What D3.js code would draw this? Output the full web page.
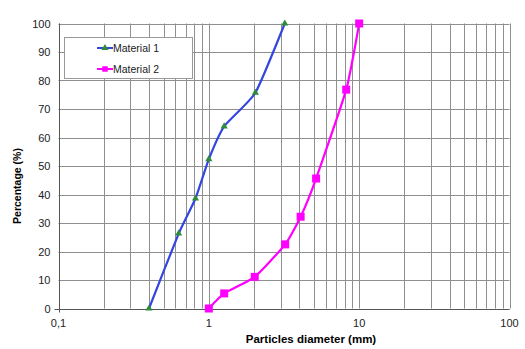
<!DOCTYPE html>
<html>
<head>
<meta charset="utf-8">
<script src="https://cdn.jsdelivr.net/npm/d3@7"></script>
<style>
  body { margin: 0; background: #fff; }
  text { font-family: "Liberation Sans", Arial, sans-serif; }
</style>
</head>
<body>
<svg id="chart" width="525" height="349"></svg>
<script>
// material 1 (blue, triangles)
var mat1Diam = [0.4, 0.63, 0.815, 1.0, 1.265, 2.04, 3.2]
var mat1Pct = [0, 26.3, 38.6, 52.4, 63.9, 75.7, 100]
// material 2 (magenta, squares)
var mat2Diam = [1.0, 1.265, 2.02, 3.22, 4.08, 5.17, 8.2, 10]
var mat2Pct = [0, 5.3, 11.1, 22.5, 32.2, 45.6, 76.8, 100]

var seriesNames = ['Material 1', 'Material 2']
var xTickLabels = ['0,1', '1', '10', '100']
var yTicks = [0, 10, 20, 30, 40, 50, 60, 70, 80, 90, 100]

var svg = d3.select('#chart')
var margin = { left: 58.5, right: 15.5, top: 23.5, bottom: 40.5 }
var W = 525, H = 349

var x = d3.scaleLog().domain([0.1, 100]).range([margin.left, W - margin.right])
var y = d3.scaleLinear().domain([0, 100]).range([H - margin.bottom, margin.top])

// vertical grid (log minor ticks)
var vTicks = []
for (var dec = 0.1; dec < 100; dec *= 10) {
  for (var k = 1; k <= 9; k++) vTicks.push(+(dec * k).toPrecision(3))
}
vTicks.push(100)

var grid = svg.append('g')
grid.selectAll('line.v')
  .data(vTicks)
  .enter().append('line')
  .attr('x1', (d) => Math.round(x(d)) + 0.5)
  .attr('x2', (d) => Math.round(x(d)) + 0.5)
  .attr('y1', y(100))
  .attr('y2', y(0))
  .attr('stroke', '#8f8f8f')
  .attr('stroke-width', 1)

grid.selectAll('line.h')
  .data(yTicks)
  .enter().append('line')
  .attr('x1', x(0.1))
  .attr('x2', x(100))
  .attr('y1', (d) => Math.round(y(d)) + 0.5)
  .attr('y2', (d) => Math.round(y(d)) + 0.5)
  .attr('stroke', '#8f8f8f')
  .attr('stroke-width', 1)

// axes lines
svg.append('line')
  .attr('x1', Math.round(x(0.1)) + 0.5).attr('x2', Math.round(x(0.1)) + 0.5)
  .attr('y1', y(100)).attr('y2', y(0) + 4)
  .attr('stroke', '#555')
svg.append('line')
  .attr('x1', x(0.1) - 4).attr('x2', x(100))
  .attr('y1', Math.round(y(0)) + 0.5).attr('y2', Math.round(y(0)) + 0.5)
  .attr('stroke', '#555')

// tick labels
svg.append('g').selectAll('text')
  .data(yTicks)
  .enter().append('text')
  .attr('x', x(0.1) - 8)
  .attr('y', (d) => y(d) + 4)
  .attr('text-anchor', 'end')
  .attr('font-size', 11)
  .attr('fill', '#222')
  .text((d) => d)

svg.append('g').selectAll('text')
  .data([0.1, 1, 10, 100])
  .enter().append('text')
  .attr('x', (d) => x(d))
  .attr('y', y(0) + 18)
  .attr('text-anchor', 'middle')
  .attr('font-size', 11)
  .attr('fill', '#222')
  .text((d, i) => xTickLabels[i])

// axis titles
svg.append('text')
  .attr('x', 311)
  .attr('y', 343)
  .attr('text-anchor', 'middle')
  .attr('font-size', 11.5)
  .attr('font-weight', 'bold')
  .text('Particles diameter (mm)')

svg.append('text')
  .attr('transform', 'translate(21,186) rotate(-90)')
  .attr('text-anchor', 'middle')
  .attr('font-size', 10.5)
  .attr('font-weight', 'bold')
  .text('Percentage (%)')

// lines
var line = d3.line()
  .x((d) => x(d[0]))
  .y((d) => y(d[1]))
  .curve(d3.curveCardinal.tension(0.5))

var data1 = d3.zip(mat1Diam, mat1Pct)
var data2 = d3.zip(mat2Diam, mat2Pct)

svg.append('path')
  .datum(data1)
  .attr('d', line)
  .attr('fill', 'none')
  .attr('stroke', '#3346e0')
  .attr('stroke-width', 2.2)

svg.append('path')
  .datum(data2)
  .attr('d', line)
  .attr('fill', 'none')
  .attr('stroke', '#ff00ff')
  .attr('stroke-width', 2.2)

var tri = d3.symbol().type(d3.symbolTriangle).size(22)
var sq = d3.symbol().type(d3.symbolSquare).size(64)

svg.append('g').selectAll('path')
  .data(data1)
  .enter().append('path')
  .attr('d', tri)
  .attr('transform', (d) => 'translate(' + x(d[0]) + ',' + y(d[1]) + ')')
  .attr('fill', '#2e8b3a')

svg.append('g').selectAll('path')
  .data(data2)
  .enter().append('path')
  .attr('d', sq)
  .attr('transform', (d) => 'translate(' + x(d[0]) + ',' + y(d[1]) + ')')
  .attr('fill', '#ff00ff')

// legend
var lg = svg.append('g')
lg.append('rect')
  .attr('x', 64.5).attr('y', 37.5)
  .attr('width', 128).attr('height', 41)
  .attr('fill', '#fff')
  .attr('stroke', '#999')

var lgColors = ['#3346e0', '#ff00ff']
var lgSym = [tri, d3.symbol().type(d3.symbolSquare).size(30)]
var lgSymFill = ['#2e8b3a', '#ff00ff']
seriesNames.forEach(function(name, i) {
  var ly = 48 + i * 21
  lg.append('line')
    .attr('x1', 97).attr('x2', 113)
    .attr('y1', ly).attr('y2', ly)
    .attr('stroke', lgColors[i]).attr('stroke-width', 2)
  lg.append('path')
    .attr('d', lgSym[i])
    .attr('transform', 'translate(105,' + ly + ')')
    .attr('fill', lgSymFill[i])
  lg.append('text')
    .attr('x', 113)
    .attr('y', ly + 3.5)
    .attr('font-size', 10.5)
    .attr('fill', '#222')
    .text(name)
})
</script>
</body>
</html>
